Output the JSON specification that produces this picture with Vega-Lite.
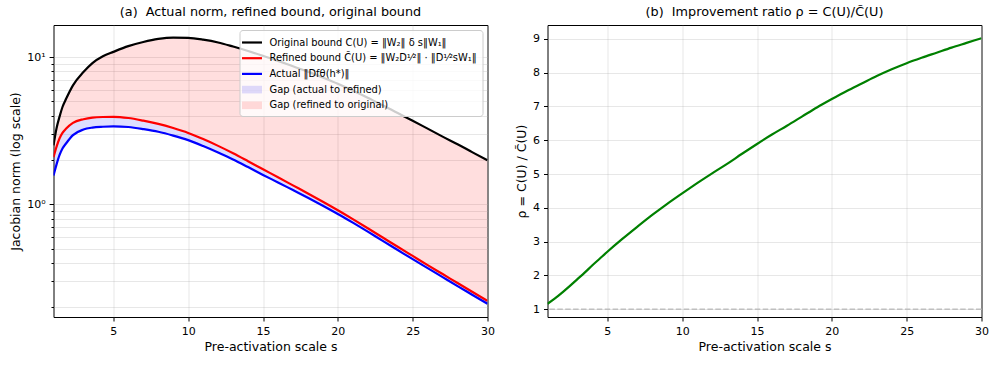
{
  "$schema": "https://vega.github.io/schema/vega-lite/v6.json",
  "padding": {"left": 8.5, "top": 5, "right": 5, "bottom": 5},
  "spacing": 19,
  "resolve": {"scale": {"color": "independent", "x": "independent", "y": "independent"}, "legend": {"color": "independent"}},
  "config": {
    "font": "DejaVu Sans",
    "view": {"stroke": "#000", "strokeWidth": 1},
    "axis": {"domain": false, "labelFont": "DejaVu Sans", "labelFontSize": 11, "labelColor": "#000", "titleFont": "DejaVu Sans", "titleFontSize": 12.5, "titleFontWeight": "normal", "titleColor": "#000", "tickColor": "#000", "tickWidth": 1, "tickSize": 4, "gridColor": "#b0b0b0", "gridOpacity": 0.3, "gridWidth": 1, "labelPadding": 4, "labelOverlap": false},
    "title": {"font": "DejaVu Sans", "fontSize": 12.8, "fontWeight": "normal", "color": "#000", "offset": 6, "anchor": "middle"}
  },
  "datasets": {
    "curves": [
      {"s": 1, "orig": 2.512, "refined": 2.089, "actual": 1.570},
      {"s": 1.2, "orig": 3.273, "refined": 2.455, "actual": 1.862},
      {"s": 1.4, "orig": 3.926, "refined": 2.799, "actual": 2.158},
      {"s": 1.6, "orig": 4.581, "refined": 3.055, "actual": 2.393},
      {"s": 1.85, "orig": 5.224, "refined": 3.273, "actual": 2.600},
      {"s": 2.3, "orig": 6.427, "refined": 3.573, "actual": 2.951},
      {"s": 3, "orig": 7.907, "refined": 3.784, "actual": 3.221},
      {"s": 3.6, "orig": 9.099, "refined": 3.881, "actual": 3.319},
      {"s": 4.3, "orig": 10.12, "refined": 3.917, "actual": 3.365},
      {"s": 5, "orig": 10.84, "refined": 3.926, "actual": 3.388},
      {"s": 6, "orig": 11.86, "refined": 3.855, "actual": 3.350},
      {"s": 7, "orig": 12.65, "refined": 3.698, "actual": 3.243},
      {"s": 8, "orig": 13.27, "refined": 3.516, "actual": 3.112},
      {"s": 9, "orig": 13.55, "refined": 3.296, "actual": 2.931},
      {"s": 10, "orig": 13.49, "refined": 3.055, "actual": 2.729},
      {"s": 11, "orig": 13.12, "refined": 2.773, "actual": 2.489},
      {"s": 12, "orig": 12.56, "refined": 2.495, "actual": 2.249},
      {"s": 13, "orig": 11.78, "refined": 2.223, "actual": 2.018},
      {"s": 14, "orig": 10.99, "refined": 1.963, "actual": 1.791},
      {"s": 15, "orig": 10.19, "refined": 1.730, "actual": 1.585},
      {"s": 16, "orig": 9.419, "refined": 1.528, "actual": 1.409},
      {"s": 17, "orig": 8.650, "refined": 1.346, "actual": 1.250},
      {"s": 18, "orig": 7.962, "refined": 1.186, "actual": 1.109},
      {"s": 19, "orig": 7.261, "refined": 1.042, "actual": 0.9795},
      {"s": 20, "orig": 6.592, "refined": 0.912, "actual": 0.861},
      {"s": 21, "orig": 5.929, "refined": 0.794, "actual": 0.7516},
      {"s": 22, "orig": 5.284, "refined": 0.6887, "actual": 0.6531},
      {"s": 23, "orig": 4.710, "refined": 0.5957, "actual": 0.5649},
      {"s": 24, "orig": 4.169, "refined": 0.5152, "actual": 0.4898},
      {"s": 25, "orig": 3.698, "refined": 0.4467, "actual": 0.4246},
      {"s": 26, "orig": 3.266, "refined": 0.3872, "actual": 0.3690},
      {"s": 27, "orig": 2.884, "refined": 0.3365, "actual": 0.3206},
      {"s": 28, "orig": 2.559, "refined": 0.2924, "actual": 0.2786},
      {"s": 29, "orig": 2.254, "refined": 0.2541, "actual": 0.2427},
      {"s": 30, "orig": 1.995, "refined": 0.2213, "actual": 0.2113}
    ],
    "ratio": [
      {"s": 1, "rho": 1.16}, {"s": 1.5, "rho": 1.32}, {"s": 2, "rho": 1.50}, {"s": 2.5, "rho": 1.69},
      {"s": 3, "rho": 1.89}, {"s": 3.5, "rho": 2.09}, {"s": 4, "rho": 2.30}, {"s": 4.5, "rho": 2.50},
      {"s": 5, "rho": 2.70}, {"s": 6, "rho": 3.08}, {"s": 7, "rho": 3.44}, {"s": 8, "rho": 3.79},
      {"s": 9, "rho": 4.12}, {"s": 10, "rho": 4.43}, {"s": 11, "rho": 4.73}, {"s": 12, "rho": 5.02},
      {"s": 13, "rho": 5.30}, {"s": 14, "rho": 5.60}, {"s": 15, "rho": 5.89}, {"s": 16, "rho": 6.17},
      {"s": 17, "rho": 6.43}, {"s": 18, "rho": 6.70}, {"s": 19, "rho": 6.97}, {"s": 20, "rho": 7.22},
      {"s": 21, "rho": 7.46}, {"s": 22, "rho": 7.68}, {"s": 23, "rho": 7.90}, {"s": 24, "rho": 8.10},
      {"s": 25, "rho": 8.28}, {"s": 26, "rho": 8.44}, {"s": 27, "rho": 8.59}, {"s": 28, "rho": 8.74},
      {"s": 29, "rho": 8.88}, {"s": 30, "rho": 9.02}
    ]
  },
  "hconcat": [
    {
      "width": 434,
      "height": 292,
      "title": {"text": "(a) \u00a0Actual norm, refined bound, original bound"},
      "data": {"name": "curves"},
      "encoding": {
        "x": {"field": "s", "type": "quantitative", "title": "Pre-activation scale s",
              "scale": {"domain": [1, 30], "nice": false, "zero": false},
              "axis": {"values": [5, 10, 15, 20, 25, 30], "labelFlush": false, "grid": true}},
        "color": {"field": "series", "type": "nominal",
                  "scale": {"domain": ["orig", "refined", "actual", "gapA", "gapB"],
                            "range": ["#000000", "#ff0000", "#0000ff", "rgba(0,0,255,0.13)", "rgba(255,0,0,0.13)"]},
                  "legend": {
                    "title": null, "orient": "top-right", "offset": 5, "padding": 5,
                    "fillColor": "rgba(255,255,255,0.8)", "strokeColor": "#cccccc", "cornerRadius": 3,
                    "labelFont": "DejaVu Sans", "labelFontSize": 9.9, "labelColor": "#000", "labelLimit": 400,
                    "symbolSize": 225, "labelOffset": 10, "rowPadding": 2.7,
                    "labelExpr": "datum.value == 'orig' ? 'Original bound C(U) = ‖W₂‖ δ s‖W₁‖' : datum.value == 'refined' ? 'Refined bound C̃(U) = ‖W₂D¹⁄²‖ · ‖D¹⁄²sW₁‖' : datum.value == 'actual' ? 'Actual ‖Dfθ(h*)‖' : datum.value == 'gapA' ? 'Gap (actual to refined)' : 'Gap (refined to original)'",
                    "encode": {"symbols": {"update": {
                      "shape": {"signal": "(datum.value == 'gapA' || datum.value == 'gapB') ? 'M-1.33,-0.51H1.33V0.51H-1.33Z' : 'M-1.33,-0.147H1.33V0.147H-1.33Z'"},
                      "fill": {"signal": "datum.value == 'orig' ? '#000000' : datum.value == 'refined' ? '#ff0000' : datum.value == 'actual' ? '#0000ff' : datum.value == 'gapA' ? 'rgba(0,0,255,0.13)' : 'rgba(255,0,0,0.13)'"},
                      "stroke": {"value": "transparent"},
                      "strokeWidth": {"value": 0},
                      "opacity": {"value": 1},
                      "fillOpacity": {"value": 1}
                    }}}
                  }}
      },
      "layer": [
        {
          "mark": {"type": "area", "interpolate": "monotone", "clip": true},
          "encoding": {
            "y": {"field": "orig", "type": "quantitative", "title": "Jacobian norm (log scale)",
                  "scale": {"type": "log", "domain": [0.172, 16.5], "nice": false},
                  "axis": {"values": [0.2, 0.3, 0.4, 0.5, 0.6, 0.7, 0.8, 0.9, 1, 2, 3, 4, 5, 6, 7, 8, 9, 10],
                           "labelExpr": "datum.value == 1 ? '10⁰' : (datum.value == 10 ? '10¹' : '')",
                           "tickSize": {"condition": {"test": "datum.value == 1 || datum.value == 10", "value": 4.4}, "value": 2.5},
                           "grid": true}},
            "y2": {"field": "refined"},
            "color": {"datum": "gapB", "type": "nominal"}
          }
        },
        {
          "mark": {"type": "area", "interpolate": "monotone", "clip": true},
          "encoding": {
            "y": {"field": "refined", "type": "quantitative", "title": "Jacobian norm (log scale)"},
            "y2": {"field": "actual"},
            "color": {"datum": "gapA", "type": "nominal"}
          }
        },
        {
          "transform": [{"fold": ["orig", "refined", "actual"], "as": ["series", "val"]}],
          "mark": {"type": "line", "interpolate": "monotone", "strokeWidth": 2.2, "clip": true},
          "encoding": {
            "y": {"field": "val", "type": "quantitative", "title": "Jacobian norm (log scale)"}
          }
        }
      ]
    },
    {
      "width": 434,
      "height": 292,
      "title": {"text": "(b) \u00a0Improvement ratio ρ = C(U)/C̃(U)"},
      "layer": [
        {
          "data": {"name": "ratio"},
          "mark": {"type": "line", "interpolate": "monotone", "color": "#008000", "strokeWidth": 2.2, "clip": true},
          "encoding": {
            "x": {"field": "s", "type": "quantitative", "title": "Pre-activation scale s",
                  "scale": {"domain": [1, 30], "nice": false, "zero": false},
                  "axis": {"values": [5, 10, 15, 20, 25, 30], "labelFlush": false, "grid": true}},
            "y": {"field": "rho", "type": "quantitative", "title": "ρ = C(U) / C̃(U)",
                  "scale": {"domain": [0.77, 9.41], "nice": false, "zero": false},
                  "axis": {"values": [1, 2, 3, 4, 5, 6, 7, 8, 9], "grid": true, "labelOverlap": false}}
          }
        },
        {
          "data": {"values": [{"ref": 1}]},
          "mark": {"type": "rule", "color": "#bfbfbf", "strokeDash": [5.5, 2.4], "strokeWidth": 1.5},
          "encoding": {"y": {"field": "ref", "type": "quantitative", "title": "ρ = C(U) / C̃(U)",
                             "axis": {"values": [1, 2, 3, 4, 5, 6, 7, 8, 9], "grid": true, "labelOverlap": false}}}
        }
      ]
    }
  ]
}
